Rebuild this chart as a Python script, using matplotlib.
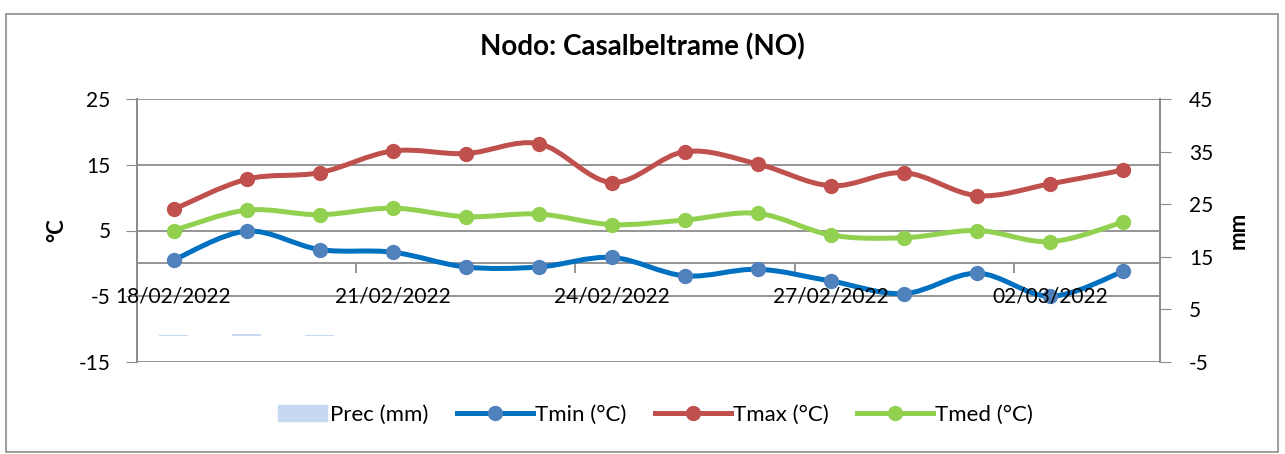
import matplotlib
matplotlib.use("Agg")
import matplotlib.pyplot as plt
import numpy as np
from matplotlib.lines import Line2D
from matplotlib.patches import Patch, Rectangle, PathPatch
from matplotlib.path import Path
from matplotlib.legend_handler import HandlerPatch

plt.rcParams["font.family"] = ["Lato", "DejaVu Sans"]
plt.rcParams["axes.unicode_minus"] = False

dates = ["18/02/2022", "19/02/2022", "20/02/2022", "21/02/2022", "22/02/2022",
         "23/02/2022", "24/02/2022", "25/02/2022", "26/02/2022", "27/02/2022",
         "28/02/2022", "01/03/2022", "02/03/2022", "03/03/2022"]
prec = [0.2, 0.4, 0.2, 0, 0, 0, 0, 0, 0, 0, 0, 0, 0, 0]
tmin = [0.5, 4.9, 2.1, 1.7, -0.55, -0.55, 0.9, -1.9, -0.9, -2.7, -4.6, -1.5, -5.0, -1.2]
tmax = [8.2, 12.8, 13.8, 17.1, 16.7, 18.2, 12.3, 17.0, 15.1, 11.8, 13.8, 10.3, 12.1, 14.2]
tmed = [5.0, 8.1, 7.4, 8.4, 7.1, 7.5, 5.9, 6.6, 7.6, 4.3, 3.9, 5.0, 3.3, 6.3]

C_PREC = "#c6d9f1"
C_MIN, M_MIN = "#0070c0", "#4f81bd"
C_MAX = "#c0504d"
C_MED = "#92d050"
GRID = "#8c8c8c"


def smooth_path(x, y):
    # Excel-style smoothed line: cubic bezier with Catmull-Rom control points
    pts = np.column_stack([x, y]).astype(float)
    n = len(pts)
    verts = [pts[0]]
    codes = [Path.MOVETO]
    for i in range(n - 1):
        p0 = pts[i - 1] if i > 0 else pts[i]
        p1, p2 = pts[i], pts[i + 1]
        p3 = pts[i + 2] if i + 2 < n else pts[i + 1]
        verts += [p1 + (p2 - p0) / 6.0, p2 - (p3 - p1) / 6.0, p2]
        codes += [Path.CURVE4] * 3
    return Path(verts, codes)


def short_box(legend, orig_handle, xdescent, ydescent, width, height, fontsize):
    # narrower swatch for the bar entry, right aligned like Excel
    return Rectangle((-xdescent + width * 0.35, -ydescent), width * 0.65, height)


fig = plt.figure(figsize=(12.85, 4.54), dpi=100)
ax = fig.add_axes([137 / 1285, 1 - 362 / 454, (1160 - 137) / 1285, (362 - 99) / 454])
ax2 = ax.twinx()
x = np.arange(len(dates))

ax2.bar(x, prec, width=0.4, color=C_PREC, zorder=2)
ax2.set_ylim(-5, 45)
ax2.set_yticks([-5, 5, 15, 25, 35, 45])
ax2.tick_params(axis="y", length=8, color=GRID, labelsize=15, pad=13)
ax2.set_ylabel("mm", fontsize=16, fontweight="bold", labelpad=10)

ax.set_zorder(ax2.get_zorder() + 1)
ax.patch.set_visible(False)

for ys, lc, mc in [(tmin, C_MIN, M_MIN), (tmax, C_MAX, C_MAX), (tmed, C_MED, C_MED)]:
    ax.add_patch(PathPatch(smooth_path(x, ys), fill=False, edgecolor=lc, lw=3.6,
                           capstyle="round", joinstyle="round", zorder=3))
    ax.plot(x, ys, ls="none", marker="o", ms=10, color=mc, zorder=4)

ax.set_xlim(-0.5, len(dates) - 0.5)
ax.set_ylim(-15, 25)
ax.set_yticks([-15, -5, 5, 15, 25])
ax.grid(axis="y", color=GRID, lw=1.3)
ax.tick_params(axis="y", length=8, color=GRID, labelsize=15, pad=11)
ax.set_ylabel("°C", fontsize=16, fontweight="bold", labelpad=8)

ax.spines["bottom"].set_position(("data", 0))
ax.set_xticks(x[::3])
ax.set_xticklabels([])
ax.set_xticks(np.arange(2.5, len(dates) - 1, 3), minor=True)
ax.tick_params(axis="x", which="major", length=0)
ax.tick_params(axis="x", which="minor", length=7, color=GRID, width=1.3)
# date labels drawn above the curves, as in the original
for i in x[::3]:
    ax.annotate(dates[i], (i, 0), xytext=(0, -24), textcoords="offset points",
                ha="center", va="center", fontsize=15, zorder=6)
for a in (ax, ax2):
    a.spines["top"].set_visible(False)
    for s in ("left", "right", "bottom"):
        a.spines[s].set_color(GRID)
        a.spines[s].set_linewidth(1.3)
ax2.spines["bottom"].set_visible(False)

fig.text(0.5, 1 - 47 / 454, "Nodo: Casalbeltrame (NO)", ha="center", va="center",
         fontsize=20, fontweight="bold")

handles = [Patch(color=C_PREC, label="Prec (mm)"),
           Line2D([], [], color=C_MIN, lw=3.6, marker="o", ms=10, mfc=M_MIN, mec=M_MIN, label="Tmin (°C)"),
           Line2D([], [], color=C_MAX, lw=3.6, marker="o", ms=10, label="Tmax (°C)"),
           Line2D([], [], color=C_MED, lw=3.6, marker="o", ms=10, label="Tmed (°C)")]
fig.legend(handles=handles, loc="center", bbox_to_anchor=(0.5, 1 - 415 / 454), ncol=4,
           frameon=False, fontsize=16, handlelength=3.4, handletextpad=0.1, columnspacing=1.3,
           handler_map={Patch: HandlerPatch(patch_func=short_box)})

fig.add_artist(Rectangle((6 / 1285, 2 / 454), 1272 / 1285, 438 / 454, transform=fig.transFigure,
                         fill=False, edgecolor="#8c8c8c", lw=1.2))

fig.savefig("out.png", dpi=100)
